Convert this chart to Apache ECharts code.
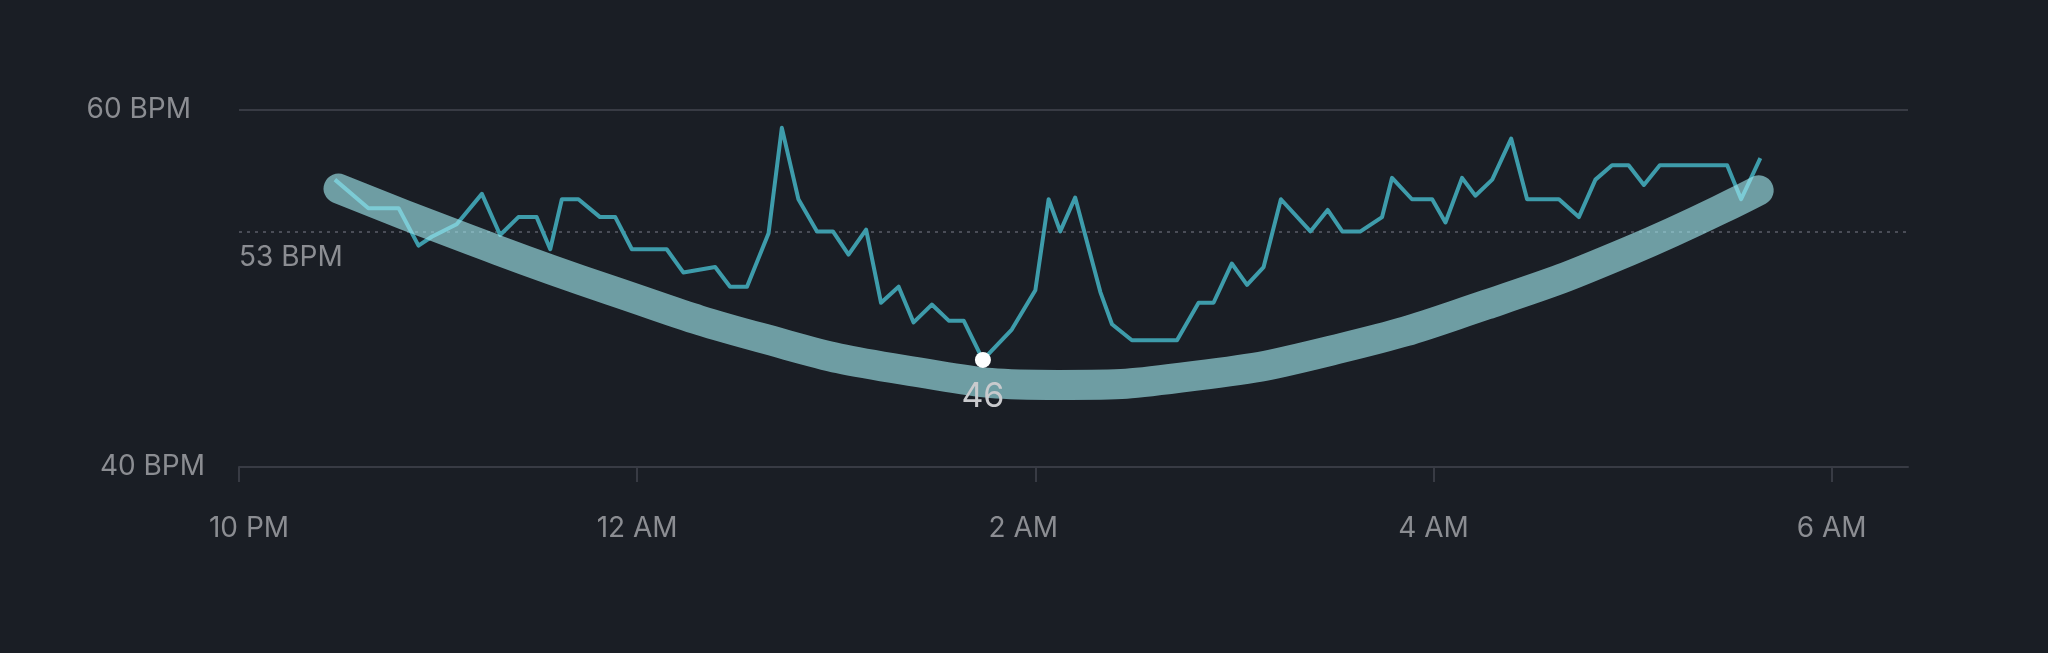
<!DOCTYPE html>
<html>
<head>
<meta charset="utf-8">
<script src="https://cdn.jsdelivr.net/npm/echarts@6/dist/echarts.min.js"></script>
<style>
  html, body { margin: 0; padding: 0; background: #1a1e25; }
  #app { width: 2048px; height: 653px; }
</style>
</head>
<body>
<div id="app"></div>
<script>
// minutes after 10 PM, heart rate samples (BPM)
const minutes = [28.9, 39.0, 48.1, 54.1, 58.1, 65.6, 73.2, 78.7, 84.2, 89.7, 93.8, 97.3, 102.3, 108.8, 113.4,
  118.4, 128.9, 133.9, 143.5, 148.0, 153.1, 159.6, 163.6, 168.6, 174.2, 179.0, 183.7, 189.0, 193.5, 198.8,
  203.3, 208.8, 213.9, 218.4, 224.2, 232.9, 240.0, 244.0, 247.5, 252.0, 259.6, 263.1, 269.1, 282.7, 289.2,
  293.7, 299.2, 303.8, 308.8, 314.0, 322.9, 328.1, 332.5, 338.0, 344.5, 347.5, 353.5, 359.6, 363.6, 368.6,
  372.6, 377.7, 383.4, 388.2, 397.8, 403.8, 408.8, 413.8, 418.8, 423.4, 428.2, 448.5, 452.7, 458.5];
const bpm = [56.1, 54.5, 54.5, 52.4, 52.9, 53.6, 55.3, 53.0, 54.0, 54.0, 52.2, 55.0, 55.0, 54.0, 54.0,
  52.2, 52.2, 50.9, 51.2, 50.1, 50.1, 53.1, 59.0, 55.0, 53.2, 53.2, 51.9, 53.3, 49.2, 50.1,
  48.1, 49.1, 48.2, 48.2, 46.0, 47.7, 49.9, 55.0, 53.2, 55.1, 49.8, 48.0, 47.1, 47.1, 49.2,
  49.2, 51.4, 50.2, 51.2, 55.0, 53.2, 54.4, 53.2, 53.2, 54.0, 56.2, 55.0, 55.0, 53.7, 56.2,
  55.2, 56.1, 58.4, 55.0, 55.0, 54.0, 56.1, 56.9, 56.9, 55.8, 56.9, 56.9, 55.0, 57.3];

// smoothed trend
const trendMinutes = [30, 70, 112, 157, 200, 247, 288, 332, 376, 419, 458];
const trendBpm = [55.6, 52.7, 49.9, 47.25, 45.45, 44.6, 45.1, 46.65, 49.1, 52.1, 55.5];

const averageBpm = 53.2;
const xTicks = [0, 120, 240, 360, 480];
const xLabels = ['10 PM', '12 AM', '2 AM', '4 AM', '6 AM'];
const yTicks = [40, 60];

const chart = echarts.init(document.getElementById('app'));
const font = 'Inter, "Liberation Sans", sans-serif';
const grey = '#8b8d92';
const rule = '#383b44';

// small nudges so the hour labels sit where the original app put them
const labelPad = { '10 PM': [0, 0, 0, 20], '2 AM': [0, 24, 0, 0] };

chart.setOption({
  backgroundColor: '#1a1e25',
  animation: false,
  grid: { left: 239, right: 140, top: 110, bottom: 186 },
  xAxis: {
    type: 'value',
    min: 0,
    max: 503,
    axisLine: { show: true, lineStyle: { color: rule, width: 2 } },
    axisTick: { show: true, length: 15, lineStyle: { color: rule, width: 2 }, customValues: xTicks },
    axisLabel: {
      customValues: xTicks,
      margin: 48,
      fontFamily: font,
      formatter: (v) => {
        const t = xLabels[xTicks.indexOf(v)];
        if (t === '10 PM') return '{l|' + t + '}';
        if (t === '2 AM') return '{r|' + t + '}';
        return '{n|' + t + '}';
      },
      rich: {
        n: { color: grey, fontSize: 28, fontFamily: font },
        l: { color: grey, fontSize: 28, fontFamily: font, padding: labelPad['10 PM'] },
        r: { color: grey, fontSize: 28, fontFamily: font, padding: labelPad['2 AM'] }
      }
    },
    splitLine: { show: false }
  },
  yAxis: {
    type: 'value',
    min: yTicks[0],
    max: yTicks[1],
    interval: yTicks[1] - yTicks[0],
    axisLine: { show: false },
    axisTick: { show: false },
    axisLabel: {
      margin: 34,
      fontFamily: font,
      formatter: (v) => v === yTicks[1] ? '{a|' + v + ' BPM}' : '{b|' + v + ' BPM}',
      rich: {
        a: { color: grey, fontSize: 28, fontFamily: font, padding: [0, 14, 0, 0] },
        b: { color: grey, fontSize: 28, fontFamily: font }
      }
    },
    splitLine: { show: true, lineStyle: { color: rule, width: 2 } }
  },
  series: [
    {
      type: 'line',
      z: 2,
      data: minutes.map((m, i) => [m, bpm[i]]),
      symbol: 'none',
      lineStyle: { color: '#3e9cab', width: 4, join: 'round' },
      markLine: {
        z: 1,
        silent: true,
        symbol: 'none',
        lineStyle: { color: '#4a4d57', width: 2, type: [3, 5] },
        label: {
          position: 'insideStartBottom',
          distance: [0, 12],
          formatter: Math.round(averageBpm) + ' BPM',
          color: grey,
          fontSize: 28,
          fontFamily: font
        },
        data: [{ yAxis: averageBpm }]
      },
      markPoint: {
        z: 6,
        symbol: 'circle',
        symbolSize: 16,
        itemStyle: { color: '#ffffff' },
        label: {
          position: 'bottom',
          distance: 12,
          color: '#c9cacd',
          fontSize: 34,
          fontFamily: font,
          formatter: (p) => String(Math.round(p.value))
        },
        data: [{ type: 'min' }]
      }
    },
    {
      type: 'line',
      z: 3,
      data: trendMinutes.map((m, i) => [m, trendBpm[i]]),
      smooth: 0.5,
      symbol: 'none',
      lineStyle: { color: 'rgba(160, 232, 238, 0.63)', width: 30, cap: 'round' }
    }
  ]
});
</script>
</body>
</html>
